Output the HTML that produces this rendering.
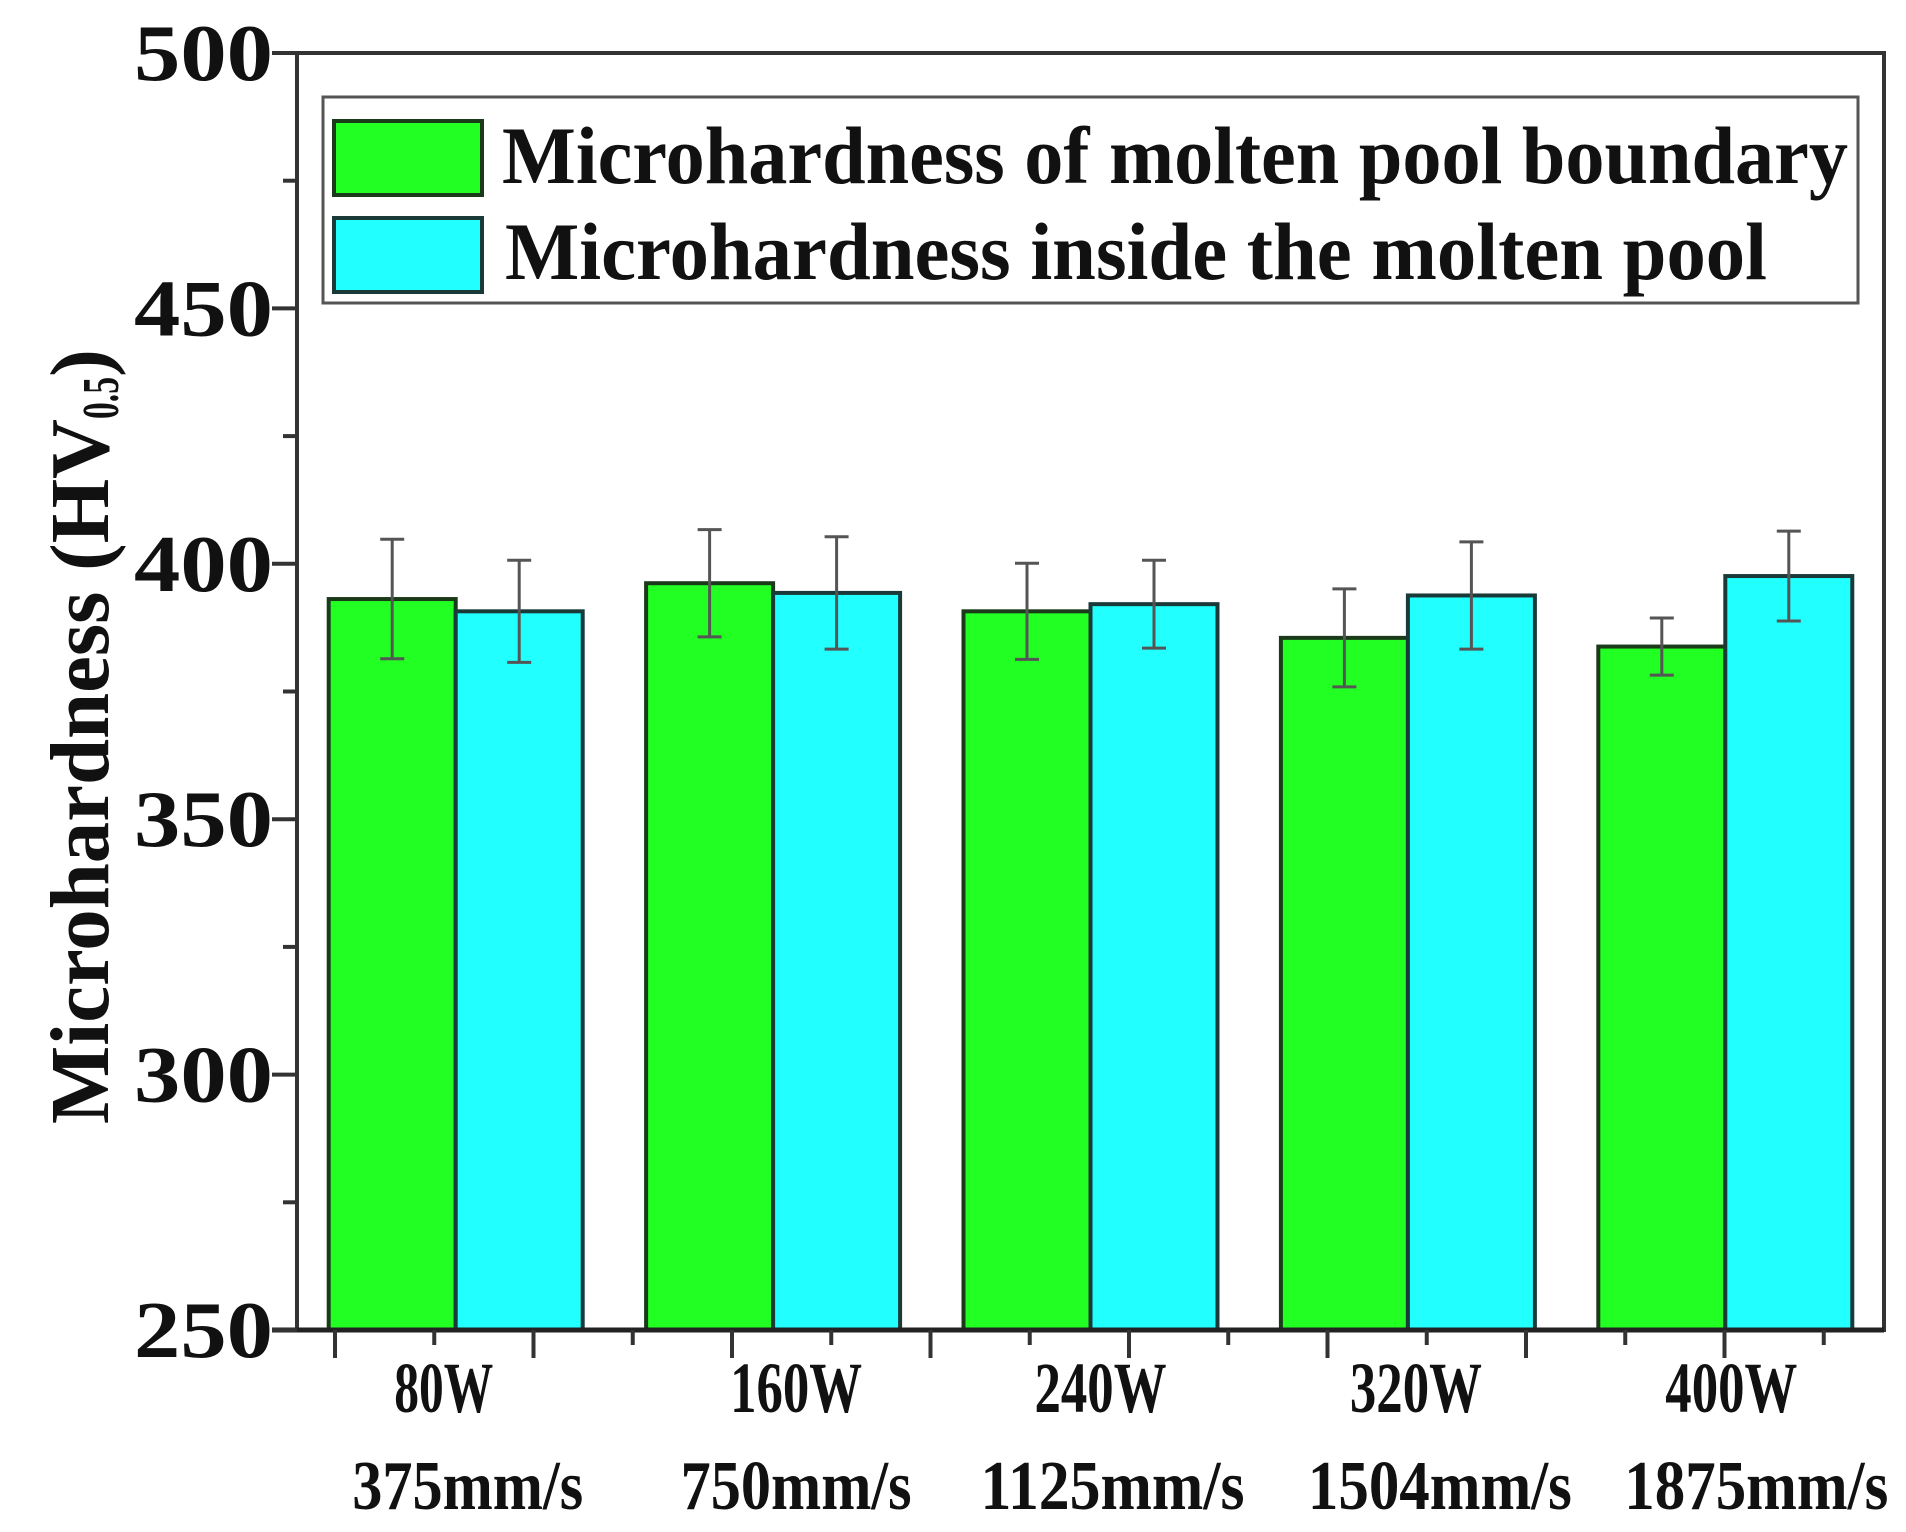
<!DOCTYPE html>
<html><head><meta charset="utf-8"><style>
html,body{margin:0;padding:0;background:#fff;}
svg{display:block;font-family:"Liberation Serif",serif;font-weight:bold;}
</style></head><body>
<svg id="chart" width="1906" height="1532" viewBox="0 0 1906 1532" xmlns="http://www.w3.org/2000/svg">
<g id="marks"></g>
<g id="axes"></g>
<g>
  <rect x="323" y="97" width="1535" height="206" fill="#fff" stroke="#555" stroke-width="3"/>
  <rect x="334" y="121" width="148" height="74" fill="#22ff22" stroke="#1a3a1a" stroke-width="4"/>
  <rect x="334" y="218" width="148" height="74" fill="#22ffff" stroke="#1a3a3a" stroke-width="4"/>
  <text x="502" y="183" font-size="82" fill="#111" textLength="1346" lengthAdjust="spacingAndGlyphs">Microhardness of molten pool boundary</text>
  <text x="505" y="279" font-size="82" fill="#111" textLength="1262" lengthAdjust="spacingAndGlyphs">Microhardness inside the molten pool</text>
</g>
<g>
  <text transform="translate(108,1124) rotate(-90)" font-size="84" fill="#111" textLength="705" lengthAdjust="spacingAndGlyphs">Microhardness (HV</text>
  <text transform="translate(118,419) rotate(-90)" font-size="52" fill="#111" textLength="42" lengthAdjust="spacingAndGlyphs">0.5</text>
  <text transform="translate(108,377) rotate(-90)" font-size="84" fill="#111">)</text>
</g>
</svg>
<script>
const categories = ["80W", "160W", "240W", "320W", "400W"];
const speeds = ["375mm/s", "750mm/s", "1125mm/s", "1504mm/s", "1875mm/s"];
const boundaryValues = [393.1, 396.2, 390.7, 385.5, 383.8];
const boundaryErrors = [11.7, 10.5, 9.4, 9.6, 5.6];
const insideValues = [390.7, 394.3, 392.1, 393.8, 397.6];
const insideErrors = [10.0, 11.0, 8.6, 10.5, 8.8];
const yTicks = [250, 300, 350, 400, 450, 500];

const NS = "http://www.w3.org/2000/svg";
const X0 = 297, X1 = 1884, Y0 = 1330, Y1 = 53, YMIN = 250, YMAX = 500;
const band = (X1 - X0) / categories.length;
const barW = 127;
function yScale(v){ return Y0 - (v - YMIN) / (YMAX - YMIN) * (Y0 - Y1); }
function xCenter(i){ return X0 + band * (i + 0.5); }
function mk(tag, attrs, parent){ const e = document.createElementNS(NS, tag); for (const k in attrs) e.setAttribute(k, attrs[k]); parent.appendChild(e); return e; }

const marks = document.getElementById('marks');
const axes = document.getElementById('axes');

const series = [
  {vals: boundaryValues, errs: boundaryErrors, fill: "#22ff22", stroke: "#1a3a1a", off: -barW, name: "boundary"},
  {vals: insideValues, errs: insideErrors, fill: "#22ffff", stroke: "#1a3a3a", off: 0, name: "inside"}
];
series.forEach(s => {
  s.vals.forEach((v, i) => {
    const x = xCenter(i) + s.off;
    const r = mk('rect', {x: x, y: yScale(v), width: barW, height: Y0 - yScale(v), fill: s.fill, stroke: s.stroke, 'stroke-width': 4}, marks);
    
    
  });
});
series.forEach(s => {
  s.vals.forEach((v, i) => {
    const cx = xCenter(i) + s.off + barW / 2;
    const g = mk('g', {stroke: "#555", 'stroke-width': 3, fill: "none"}, marks);
    
    
    const yt = yScale(v + s.errs[i]), yb = yScale(v - s.errs[i]);
    mk('line', {x1: cx, x2: cx, y1: yt, y2: yb}, g);
    mk('line', {x1: cx - 12, x2: cx + 12, y1: yt, y2: yt}, g);
    mk('line', {x1: cx - 12, x2: cx + 12, y1: yb, y2: yb}, g);
  });
});

const frame = mk('rect', {x: X0, y: Y1, width: X1 - X0, height: Y0 - Y1, fill: "none", stroke: "#333", 'stroke-width': 4}, axes);


mk('line', {x1: X0 - 25, x2: X1, y1: Y0, y2: Y0, stroke: "#222", 'stroke-width': 5}, axes);

for (let v = YMIN; v <= YMAX; v += 25) {
  const major = (v % 50 === 0);
  mk('line', {x1: X0 - (major ? 25 : 14), x2: X0, y1: yScale(v), y2: yScale(v), stroke: "#333", 'stroke-width': 4}, axes);
}
yTicks.forEach(v => {
  const t = mk('text', {x: 273, y: yScale(v) + 27, 'font-size': 80, 'text-anchor': 'end', fill: "#111", textLength: 139, lengthAdjust: "spacingAndGlyphs"}, axes);
  t.textContent = v;
  
  
});

for (let k = 0; k < 16; k++) {
  const x = 335 + k * 99.25;
  if (x > X1) break;
  const major = k % 2 === 0;
  mk('line', {x1: x, x2: x, y1: Y0, y2: Y0 + (major ? 28 : 15), stroke: "#333", 'stroke-width': 4}, axes);
}
const labelOffsets1 = [-12, 23, 10, 8, 6];
const labelOffsets2 = [12, 23, 22, 32, 31];
categories.forEach((c, i) => {
  const t = mk('text', {x: xCenter(i) + labelOffsets1[i], y: 1412, 'font-size': 72, 'text-anchor': 'middle', fill: "#111", textLength: c.length * 33, lengthAdjust: "spacingAndGlyphs"}, axes);
  t.textContent = c;
  
  
  const s = mk('text', {x: xCenter(i) + labelOffsets2[i], y: 1509, 'font-size': 70, 'text-anchor': 'middle', fill: "#111", textLength: speeds[i].length * 33, lengthAdjust: "spacingAndGlyphs"}, axes);
  s.textContent = speeds[i];
  
  
});
</script>
</body></html>
